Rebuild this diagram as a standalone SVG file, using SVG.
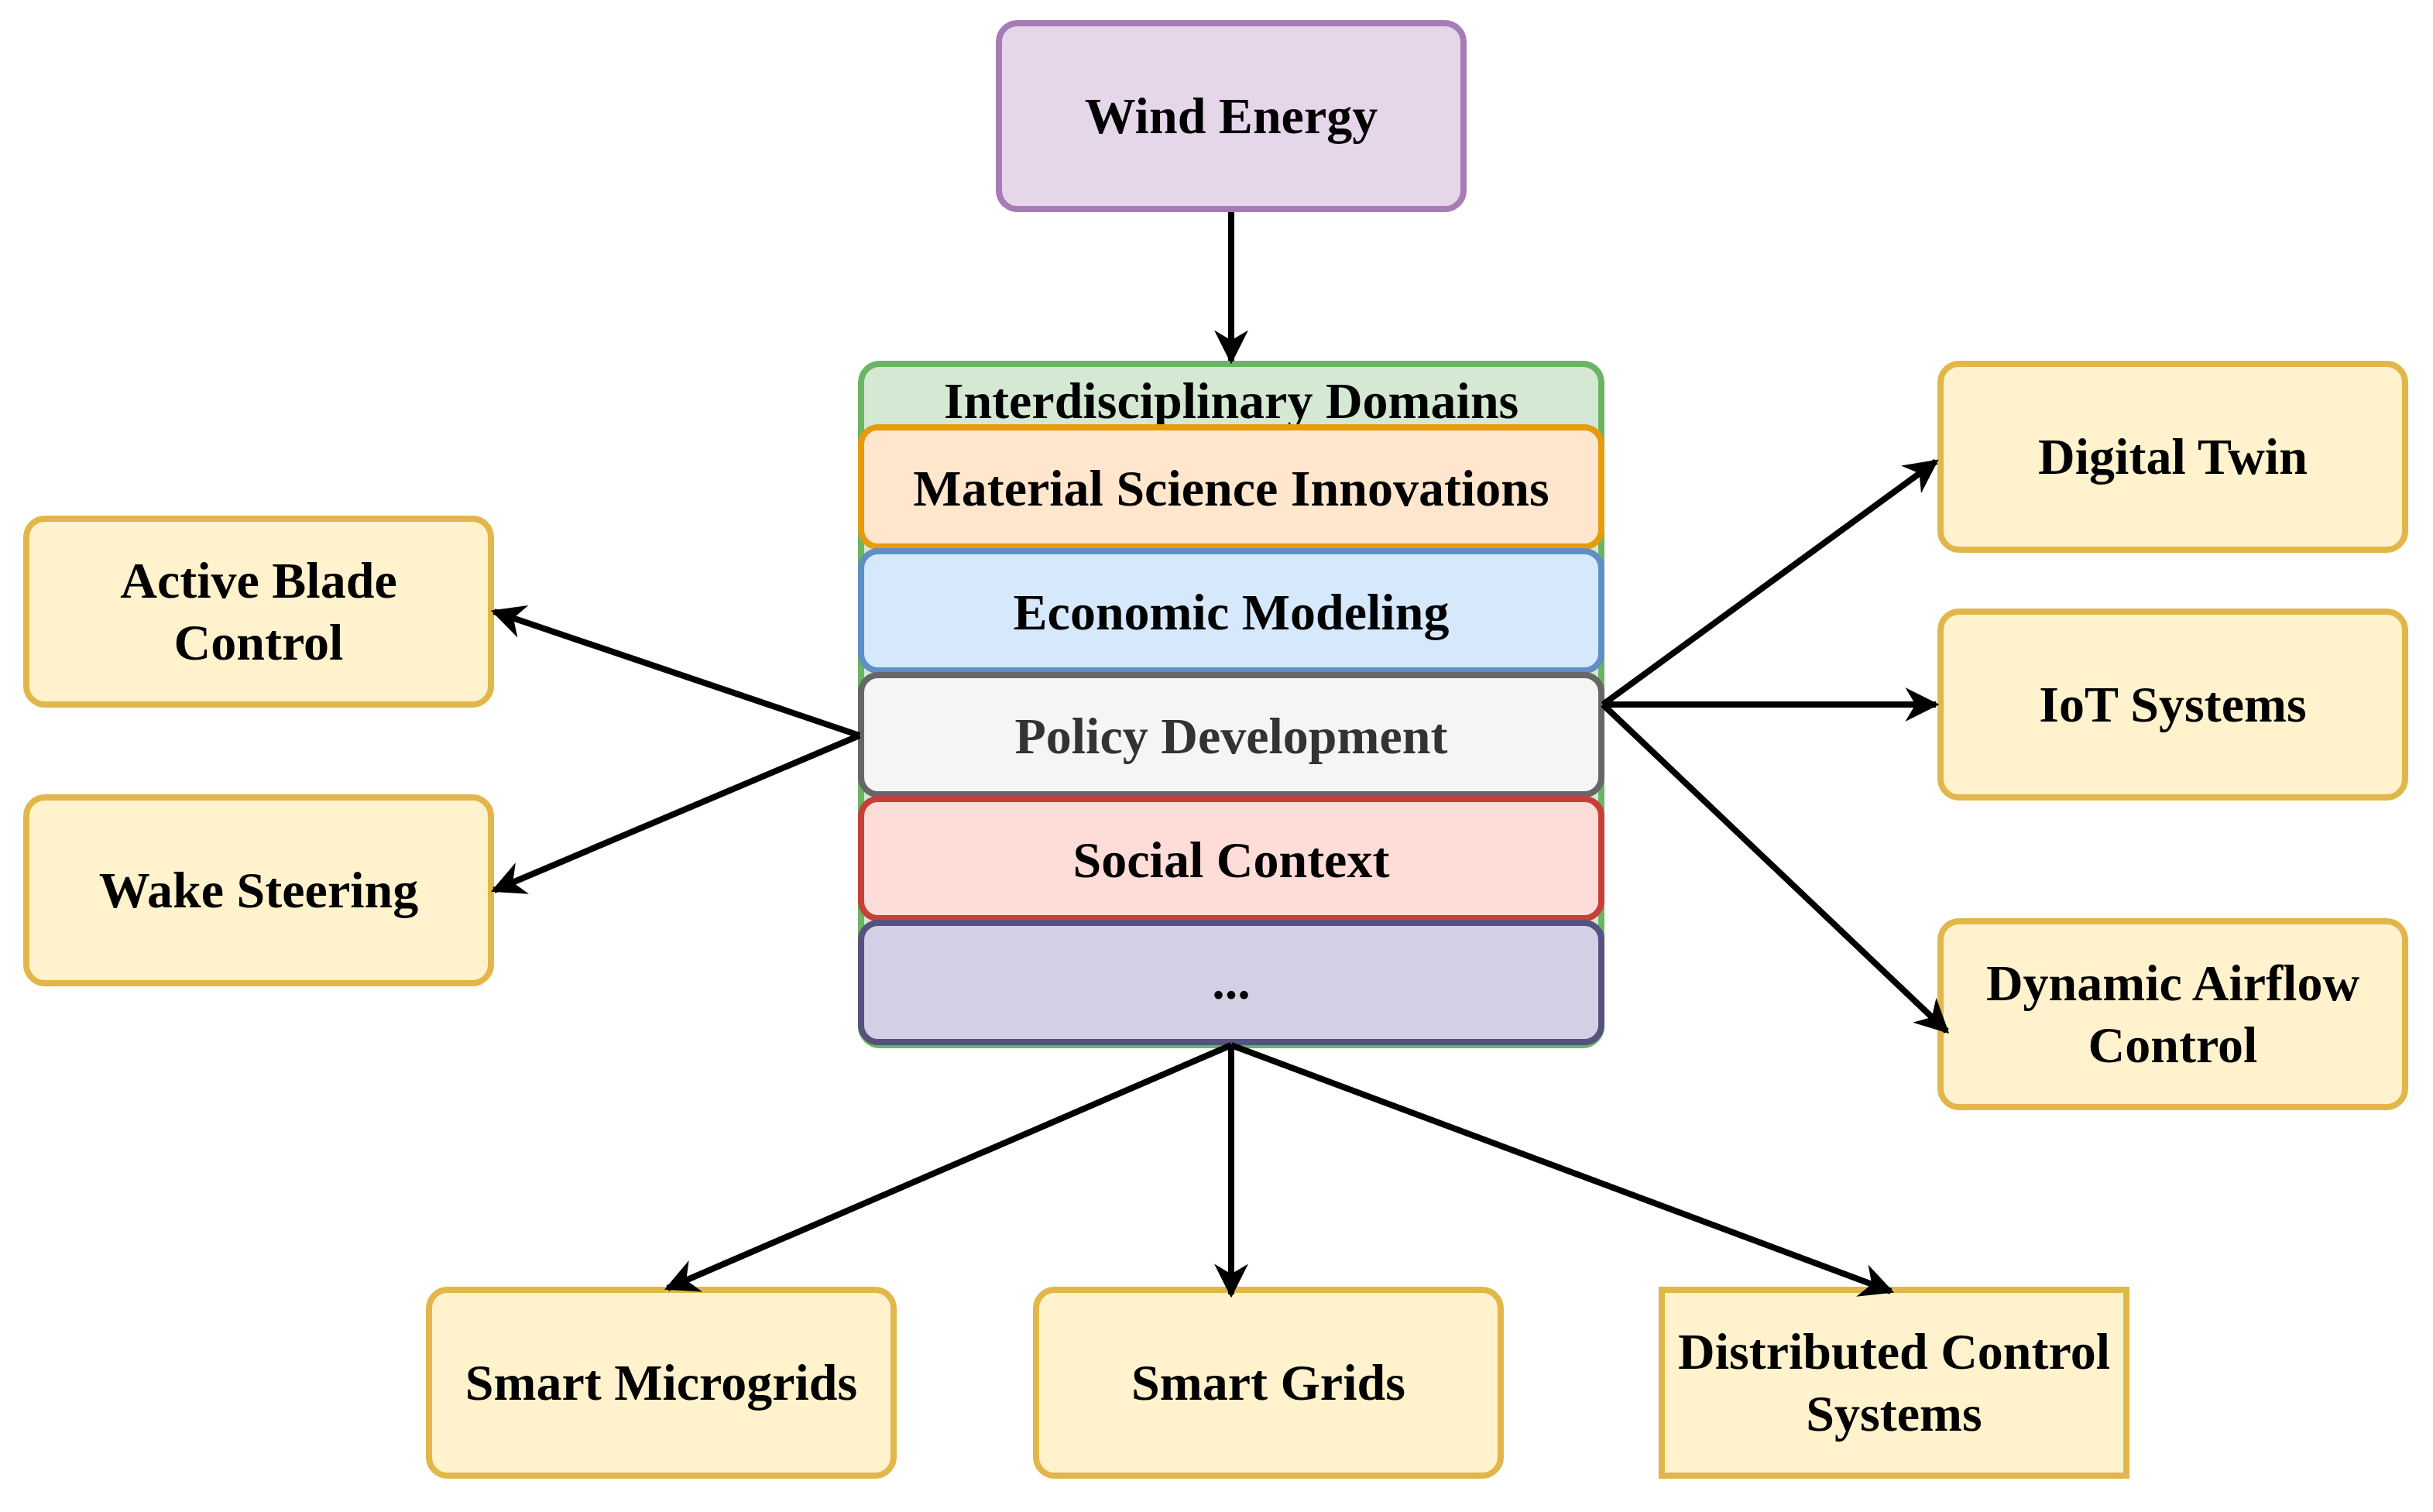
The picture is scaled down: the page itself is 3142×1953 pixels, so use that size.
<svg xmlns="http://www.w3.org/2000/svg" width="3142" height="1953" viewBox="0 0 3142 1953">
<defs>
<marker id="ah" viewBox="0 0 10 10" refX="9" refY="5" markerWidth="5.5" markerHeight="5.5" orient="auto" markerUnits="strokeWidth"><path d="M0,0 L10,5 L0,10 L3,5 Z" fill="#000"/></marker>
</defs>
<style>
text{font-family:"Liberation Serif",serif;font-weight:bold;font-size:66px;text-anchor:middle;fill:#000}
.y{fill:#fff2cc;stroke:#e2b64a;stroke-width:8}
.c{stroke:#000;stroke-width:8;fill:none;marker-end:url(#ah)}
</style>
<rect width="3142" height="1953" fill="#fff"/>
<g id="wind"><rect x="1290" y="30" width="600" height="240" rx="24" fill="#e6d6ea" stroke="#a77bb5" stroke-width="8"/><text x="1590" y="172">Wind Energy</text></g>
<g id="stack">
<rect x="1112" y="470" width="956" height="880" rx="24" fill="#d5e8d4" stroke="#6ab464" stroke-width="8"/>
<text x="1590" y="540">Interdisciplinary Domains</text>
</g>
<g id="material"><rect x="1112" y="552" width="956" height="154" rx="22" fill="#ffe6cc" stroke="#e69b0f" stroke-width="8"/><text x="1590" y="653">Material Science Innovations</text></g>
<g id="economic"><rect x="1112" y="712" width="956" height="154" rx="22" fill="#d6e8fb" stroke="#5f8fc4" stroke-width="8"/><text x="1590" y="813">Economic Modeling</text></g>
<g id="policy"><rect x="1112" y="872" width="956" height="154" rx="22" fill="#f5f5f5" stroke="#666" stroke-width="8"/><text x="1590" y="973" style="fill:#333">Policy Development</text></g>
<g id="social"><rect x="1112" y="1032" width="956" height="154" rx="22" fill="#fedcd8" stroke="#c6403a" stroke-width="8"/><text x="1590" y="1133">Social Context</text></g>
<g id="more"><rect x="1112" y="1192" width="956" height="154" rx="22" fill="#d3d0e6" stroke="#56517e" stroke-width="8"/><text x="1590" y="1290">...</text></g>
<g id="active"><rect class="y" x="34" y="670" width="600" height="240" rx="24"/><text x="334" y="772">Active Blade</text><text x="334" y="852">Control</text></g>
<g id="wake"><rect class="y" x="34" y="1030" width="600" height="240" rx="24"/><text x="334" y="1172">Wake Steering</text></g>
<g id="digital"><rect class="y" x="2506" y="470" width="600" height="240" rx="24"/><text x="2806" y="612">Digital Twin</text></g>
<g id="iot"><rect class="y" x="2506" y="790" width="600" height="240" rx="24"/><text x="2806" y="932">IoT Systems</text></g>
<g id="airflow"><rect class="y" x="2506" y="1190" width="600" height="240" rx="24"/><text x="2806" y="1292">Dynamic Airflow</text><text x="2806" y="1372">Control</text></g>
<g id="micro"><rect class="y" x="554" y="1666" width="600" height="240" rx="24"/><text x="854" y="1808">Smart Microgrids</text></g>
<g id="grids"><rect class="y" x="1338" y="1666" width="600" height="240" rx="24"/><text x="1638" y="1808">Smart Grids</text></g>
<g id="dist"><rect class="y" x="2146" y="1666" width="600" height="240"/><text x="2446" y="1768">Distributed Control</text><text x="2446" y="1848">Systems</text></g>
<g id="connectors">
<line class="c" x1="1590" y1="274" x2="1590" y2="466"/>
<line class="c" x1="1110" y1="950" x2="638" y2="790"/>
<line class="c" x1="1110" y1="950" x2="638" y2="1150"/>
<line class="c" x1="2070" y1="910" x2="2500" y2="596"/>
<line class="c" x1="2070" y1="910" x2="2500" y2="910"/>
<line class="c" x1="2070" y1="910" x2="2514" y2="1332"/>
<line class="c" x1="1590" y1="1350" x2="862" y2="1664"/>
<line class="c" x1="1590" y1="1350" x2="1590" y2="1672"/>
<line class="c" x1="1590" y1="1350" x2="2442" y2="1668"/>
</g>
</svg>
